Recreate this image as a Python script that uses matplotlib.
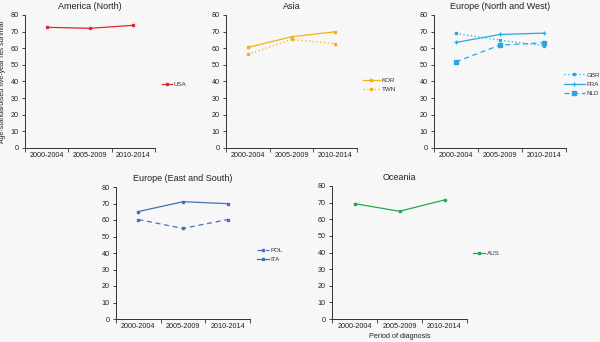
import matplotlib
matplotlib.use("Agg")
import matplotlib.pyplot as plt

plt.rcParams['font.family'] = ['Liberation Sans', 'DejaVu Sans']

periods = ["2000-2004", "2005-2009", "2010-2014"]
yticks = [0, 10, 20, 30, 40, 50, 60, 70, 80]

usa = [72.6, 72.0, 73.8]
kor = [60.5, 66.9, 69.9]
twn = [56.3, 65.3, 62.7]
gbr = [68.9, 64.9, 61.5]
fra = [63.5, 68.3, 69.1]
nld = [51.9, 61.9, 63.3]
pol = [60.3, 54.9, 60.3]
ita = [65.1, 71.1, 69.9]
aus = [69.4, 64.8, 71.6]

W, H = 600, 342
bg = '#f7f7f7'
fig = plt.figure(figsize=(W / 100, H / 100), dpi=100, facecolor=bg)

def px_axes(l, t, r, b):
    return fig.add_axes([l / W, 1 - b / H, (r - l) / W, (b - t) / H], facecolor=bg)

def style(ax, title):
    ax.set_xlim(-0.5, 2.5)
    ax.set_ylim(0, 80)
    ax.set_yticks(yticks)
    ax.set_xticks(range(3))
    ax.set_xticklabels(periods)
    ax.set_xticks([-0.5, 0.5, 1.5, 2.5], minor=True)
    ax.tick_params(axis='x', which='major', length=0, labelsize=5.2, pad=3, colors='#222222')
    ax.tick_params(axis='x', which='minor', length=3, width=0.6, direction='out', color='#333333')
    ax.tick_params(axis='y', length=2.5, width=0.6, labelsize=5.2, pad=2, colors='#222222')
    for s in ['top', 'right']:
        ax.spines[s].set_visible(False)
    for s in ['left', 'bottom']:
        ax.spines[s].set_linewidth(0.7)
        ax.spines[s].set_color('#333333')
    ax.set_title(title, fontsize=6.5, pad=4, color='#222222')

def leg(ax, x, y, hl):
    ax.legend(loc='center left', bbox_to_anchor=(x / W, 1 - y / H),
              bbox_transform=fig.transFigure, frameon=False, fontsize=4.5,
              handlelength=hl, handletextpad=0.3, labelspacing=0.6,
              borderaxespad=0, borderpad=0, labelcolor='#333333')

x = list(range(3))
lw = 0.9
ms = 1.8

# America (North)
ax1 = px_axes(25, 15, 155, 148)
ax1.plot(x, usa, color='#e3262b', lw=lw, marker='s', ms=ms, label='USA')
style(ax1, 'America (North)')
ax1.set_ylabel('Age-standardised five-year net survival', fontsize=5.0, labelpad=3, color='#222222')
leg(ax1, 162, 84, 1.6)

# Asia
ax2 = px_axes(226, 15, 357, 148)
ax2.plot(x, kor, color='#f5b20f', lw=lw, marker='s', ms=ms, label='KOR')
ax2.plot(x, twn, color='#f5b20f', lw=lw, ls=(0, (1, 2)), marker='s', ms=ms, label='TWN')
style(ax2, 'Asia')
leg(ax2, 363, 85, 2.7)

# Europe (North and West)
ax3 = px_axes(434, 15, 566, 148)
ax3.plot(x, gbr, color='#2aa6e0', lw=lw, ls=(0, (1, 2)), marker='s', ms=ms, label='GBR')
ax3.plot(x, fra, color='#2aa6e0', lw=lw, marker='+', ms=3, mew=0.9, label='FRA')
ax3.plot(x, nld, color='#2aa6e0', lw=lw, ls=(0, (4, 3)), marker='s', ms=2.6, label='NLD')
style(ax3, 'Europe (North and West)')
leg(ax3, 564, 84, 3.3)

# Europe (East and South)
ax4 = px_axes(116, 187, 250, 319)
ax4.plot(x, pol, color='#4a6fb5', lw=lw, ls=(0, (4, 3)), marker='s', ms=ms, label='POL')
ax4.plot(x, ita, color='#4a6fb5', lw=lw, marker='s', ms=ms, label='ITA')
style(ax4, 'Europe (East and South)')
leg(ax4, 257, 255, 1.9)

# Oceania
ax5 = px_axes(332, 186, 467, 319)
ax5.plot(x, aus, color='#1fa84a', lw=lw, marker='s', ms=ms, label='AUS')
style(ax5, 'Oceania')
ax5.set_xlabel('Period of diagnosis', fontsize=5.2, labelpad=2, color='#222222')
leg(ax5, 473, 253, 1.9)

fig.savefig('out.png', dpi=100, facecolor=bg)
